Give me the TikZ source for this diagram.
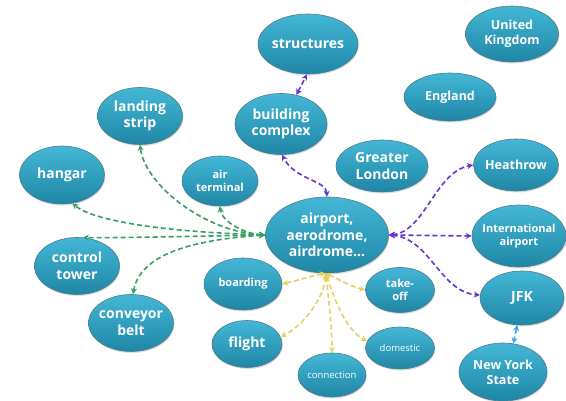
\documentclass[tikz,border=0pt]{standalone}
\usepackage{fontspec}
\setmainfont{Open Sans}
\usetikzlibrary{shapes.geometric,arrows.meta,shadows}
\definecolor{bubtop}{HTML}{44B7D6}
\definecolor{bubbot}{HTML}{1F86A5}
\definecolor{bubline}{HTML}{4F7C8C}
\definecolor{gline}{HTML}{36A062}
\definecolor{pline}{HTML}{6A32CF}
\definecolor{yline}{HTML}{E8CF62}
\definecolor{bline}{HTML}{3AA8E2}
\newcommand\fA{\bfseries\fontsize{14}{16.5}\selectfont}
\newcommand\fB{\bfseries\fontsize{12.5}{15}\selectfont}
\newcommand\fC{\bfseries\fontsize{11}{13.5}\selectfont}
\newcommand\fD{\fontsize{9.5}{11}\selectfont}
\newcommand\bubble[7]{%
  \node[bub, minimum width=#4pt, minimum height=#5pt] (#1) at (#2,#3) {};
  \node[lbl, font=#6] (#1-t) at (#1.center) {#7};}
\tikzset{
  bub/.style={ellipse, inner sep=0pt, top color=bubtop, bottom color=bubbot,
    draw=bubline, line width=0.6pt,
    drop shadow={opacity=0.25, shadow xshift=0.8pt, shadow yshift=-1.5pt}},
  lbl/.style={text=white, align=center, inner sep=0pt},
  con/.style={dash pattern=on 5pt off 3pt, line width=1.6pt,
    {Stealth[length=6pt,width=6pt]}-{Stealth[length=6pt,width=6pt]}},
}
\begin{document}
\begin{tikzpicture}[x=1pt,y=-1pt]
\useasboundingbox (0,0) rectangle (566,401);
\fill[white] (0,0) rectangle (566,401);

\bubble{st}{308}{44}{100}{60}{\fA}{structures}
\bubble{uk}{512}{34}{93}{56}{\fB}{United\\Kingdom}
\bubble{en}{450}{97}{92}{48}{\fB}{England}
\bubble{bc}{281}{124}{92}{61}{\fA}{building\\complex}
\bubble{ls}{140}{116}{85}{57}{\fA}{landing\\strip}
\bubble{hg}{62}{175}{85}{58}{\fA}{hangar}
\bubble{at}{220}{181}{76}{50}{\fC}{air\\terminal}
\bubble{gl}{382}{166}{92}{52}{\fA}{Greater\\London}
\bubble{hr}{516}{165}{85}{52}{\fB}{Heathrow}
\bubble{ap}{327}{235}{123}{76}{\fA}{airport,\\aerodrome,\\airdrome...}
\bubble{ia}{519}{236}{94}{62}{\fC}{International\\airport}
\bubble{jfk}{522}{298}{84}{54}{\fA}{JFK}
\bubble{ny}{503}{372}{88}{58}{\fB}{New York\\State}
\bubble{ct}{77}{266}{85}{57}{\fA}{control\\tower}
\bubble{cb}{131}{323}{85}{57}{\fA}{conveyor\\belt}
\bubble{bd}{243}{284}{78}{52}{\fC}{boarding}
\bubble{fl}{247}{344}{70}{47}{\fA}{flight}
\bubble{to}{400}{290}{69}{45}{\fC}{take-\\off}
\bubble{dm}{400}{348}{69}{42}{\fD}{domestic}
\bubble{cn}{332}{375}{68}{44}{\fD}{connection}

% green
\draw[con, gline] (ap.west) .. controls (205,232) and (145,185) .. (ls.south);
\draw[con, gline] (ap.west) .. controls (170,232) and (95,222) .. (hg.-70);
\draw[con, gline] (ap.west) .. controls (200,236) and (130,238) .. (ct.78);
\draw[con, gline] (ap.west) .. controls (190,240) and (140,255) .. (cb.86);
\draw[con, gline] (ap.west) .. controls (245,234) and (222,222) .. (at.south);
% purple
\draw[con, pline] (ap.north) .. controls (326,180) and (295,180) .. (bc.-88);
\draw[con, pline] (bc.62) -- (st.-92);
\draw[con, pline] (ap.east) .. controls (425,232) and (435,172) .. (hr.west);
\draw[con, pline] (ap.east) -- (ia.west);
\draw[con, pline] (ap.east) .. controls (430,238) and (440,292) .. (jfk.176);
% blue
\draw[con, bline] (jfk.-100) -- (ny.70);
% yellow
\draw[con, yline] (ap.-92) .. controls (310,276) and (300,280) .. (bd.east);
\draw[con, yline] (ap.-92) .. controls (340,280) and (350,286) .. (to.west);
\draw[con, yline] (ap.-92) .. controls (325,295) and (305,325) .. (fl.12);
\draw[con, yline] (ap.-92) .. controls (329,300) and (332,330) .. (cn.north);
\draw[con, yline] (ap.-92) .. controls (333,295) and (345,330) .. (dm.168);
\end{tikzpicture}
\end{document}
